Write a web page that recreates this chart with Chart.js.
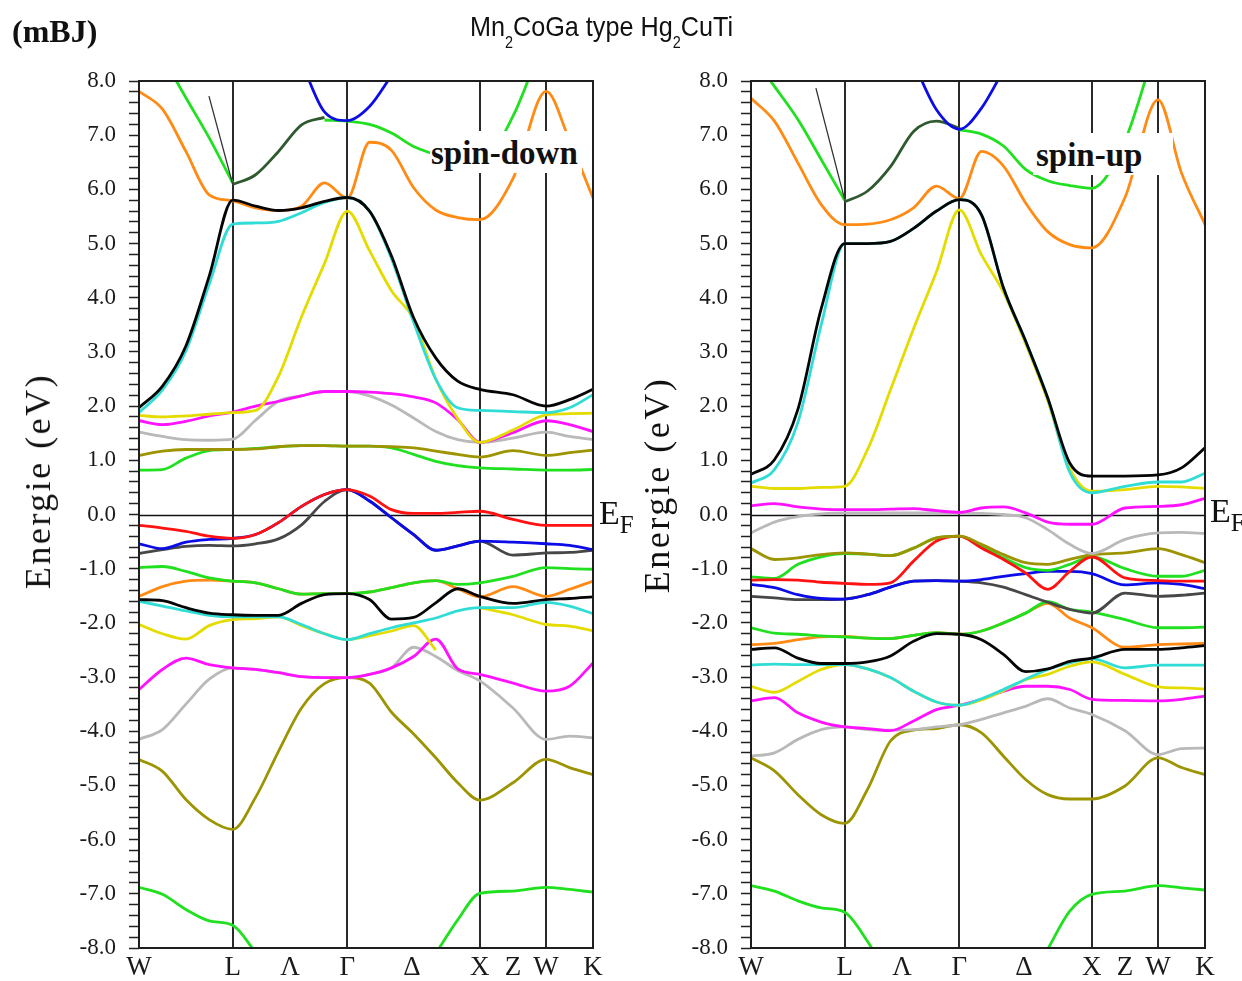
<!DOCTYPE html>
<html>
<head>
<meta charset="utf-8">
<script src="https://cdn.jsdelivr.net/npm/chart.js@4.4.1/dist/chart.umd.min.js"></script>
<style>
  body { margin: 0; background: #fff; }
  #page { position: relative; width: 1242px; height: 981px; overflow: hidden; background: #fff;
          font-family: "Liberation Serif", "Times New Roman", serif; color: #111; }
  canvas { position: absolute; top: 0; }
  .txt { position: absolute; white-space: nowrap; line-height: 1; }
  .ylab { font-size: 36px; transform: translate(-50%, -50%) rotate(-90deg); letter-spacing: 2.5px; }
  .spin { font-weight: bold; font-size: 33px; background: #fff; padding-top: 6px; height: 42px; box-sizing: border-box; }
  .ef { font-size: 34px; }
  .ef sub { font-size: 25px; vertical-align: -9px; }
  #title { left: 470px; top: 13px; font-family: "Liberation Sans", Arial, sans-serif; font-size: 28px;
           transform: scaleX(0.9); transform-origin: left top; color: #111; }
  #title sub { font-size: 16px; vertical-align: -12px; }
</style>
</head>
<body>
<div id="page">
  <canvas id="spinDown" width="621" height="981" style="left:0"></canvas>
  <canvas id="spinUp" width="621" height="981" style="left:621px"></canvas>

  <div class="txt" style="left:12px;top:15px;font-size:32px;font-weight:bold">(mBJ)</div>
  <div class="txt" id="title">Mn<sub>2</sub>CoGa type Hg<sub>2</sub>CuTi</div>

  <div class="txt ylab" style="left:38px;top:481px">Energie (eV)</div>
  <div class="txt ylab" style="left:657px;top:485px">Energie (eV)</div>

  <div class="txt spin" style="left:430px;top:131px;width:152px;padding-left:1px">spin-down</div>
  <div class="txt spin" style="left:1033px;top:133px;width:140px;padding-left:3px">spin-up</div>

  <div class="txt ef" style="left:599px;top:496px">E<sub>F</sub></div>
  <div class="txt ef" style="left:1210px;top:494px">E<sub>F</sub></div>
</div>

<script>
// k-path W-L-Γ-X-W-K, distances in 2π/a
const kPath = [0, 0.177, 0.354, 0.530, 0.707, 0.880, 1.053, 1.227, 1.400, 1.573,
               1.740, 1.906, 2.073, 2.240, 2.406, 2.573, 2.823, 3.073, 3.250, 3.427];
const kSym = [0, 0.707, 1.14, 1.573, 2.06, 2.573, 2.823, 3.073, 3.427];
const kSymLabels = ['W', 'L', 'Λ', 'Γ', 'Δ', 'X', 'Z', 'W', 'K'];
const kLines = [0.707, 1.573, 2.573, 3.073];
const eTicks = { min: -8, max: 8, step: 0.2 };

// short segments ending at L
const dnThinK = [0.528, 0.707];
const dnThin = [7.72, 6.10];
const upThinK = [0.490, 0.707];
const upThin = [7.87, 5.81];

// spin-down bands (eV)
const dnOrangeHi = [7.81, 7.48, 6.70, 5.90, 5.79, 5.66, 5.61, 5.69, 6.12, 5.84, 6.87, 6.72, 6.03, 5.62, 5.48, 5.44, 6.20, 7.81, 6.90, 5.84];
const dnGreenHi = [null, 8.45, 7.69, 6.95, 6.12, null, null, null, 7.28, 7.26, 7.20, 7.04, 6.79, 6.64, 6.50, 6.50, 7.35, 8.90, null, null];
const dnDarkGreen = [null, null, null, null, 6.09, 6.27, 6.70, 7.19, 7.33, null, null, null, null, null, null, null, null, null, null, null];
const dnBlueHi = [null, null, null, null, null, null, null, 8.34, 7.43, 7.27, 7.53, 8.10, null, null, null, null, null, null, null, null];
const dnBlack = [1.97, 2.37, 3.11, 4.40, 5.80, 5.69, 5.61, 5.66, 5.78, 5.85, 5.60, 4.77, 3.63, 2.89, 2.46, 2.31, 2.21, 2.00, 2.12, 2.31];
const dnCyan = [1.88, 2.30, 3.02, 4.25, 5.36, 5.38, 5.41, 5.57, 5.76, 5.85, 5.60, 4.72, 3.55, 2.50, 1.97, 1.92, 1.90, 1.88, 1.97, 2.21];
const dnYellowHi = [1.83, 1.80, 1.82, 1.85, 1.88, 1.92, 2.55, 3.65, 4.63, 5.60, 4.87, 4.13, 3.60, 2.50, 1.77, 1.33, 1.56, 1.84, 1.86, 1.87];
const dnMagentaHi = [1.73, 1.66, 1.72, 1.82, 1.89, 2.00, 2.09, 2.19, 2.27, 2.27, 2.26, 2.23, 2.17, 2.06, 1.75, 1.33, 1.51, 1.73, 1.66, 1.53];
const dnGrayHi = [1.52, 1.44, 1.38, 1.37, 1.39, 1.74, 2.09, 2.19, 2.27, 2.27, 2.19, 2.02, 1.78, 1.53, 1.38, 1.33, 1.41, 1.52, 1.44, 1.38];
const dnOliveHi = [1.09, 1.17, 1.20, 1.20, 1.20, 1.21, 1.25, 1.27, 1.27, 1.26, 1.26, 1.25, 1.23, 1.17, 1.11, 1.06, 1.18, 1.09, 1.14, 1.19];
const dnGreenMid = [0.82, 0.83, 1.04, 1.18, 1.20, 1.22, 1.25, 1.27, 1.27, 1.26, 1.26, 1.23, 1.11, 0.98, 0.90, 0.86, 0.84, 0.82, 0.82, 0.83];
const dnRed = [-0.20, -0.25, -0.31, -0.40, -0.44, -0.37, -0.15, 0.15, 0.37, 0.46, 0.34, 0.09, 0.02, 0.02, 0.04, 0.06, -0.09, -0.20, -0.20, -0.20];
const dnBlue = [-0.54, -0.63, -0.51, -0.46, -0.44, -0.37, -0.15, 0.15, 0.37, 0.46, 0.25, -0.06, -0.37, -0.66, -0.58, -0.49, -0.51, -0.54, -0.57, -0.65];
const dnDarkGray = [-0.72, -0.65, -0.59, -0.57, -0.58, -0.54, -0.45, -0.19, 0.24, 0.46, 0.25, -0.06, -0.37, -0.66, -0.58, -0.49, -0.75, -0.71, -0.70, -0.66];
const dnGreenLo = [-0.98, -0.96, -1.05, -1.17, -1.23, -1.26, -1.37, -1.47, -1.46, -1.46, -1.43, -1.35, -1.26, -1.22, -1.29, -1.26, -1.14, -0.98, -1.00, -1.01];
const dnOrangeLo = [-1.51, -1.33, -1.23, -1.21, -1.23, -1.26, -1.37, -1.47, -1.46, -1.46, -1.43, -1.35, -1.26, -1.22, -1.37, -1.52, -1.33, -1.51, -1.38, -1.23];
const dnBlackLo = [-1.57, -1.59, -1.72, -1.82, -1.85, -1.86, -1.86, -1.64, -1.48, -1.46, -1.57, -1.93, -1.90, -1.63, -1.37, -1.51, -1.64, -1.57, -1.55, -1.52];
const dnCyanLo = [-1.60, -1.69, -1.78, -1.86, -1.89, -1.89, -1.89, -2.03, -2.20, -2.31, -2.20, -2.09, -2.00, -1.91, -1.78, -1.72, -1.72, -1.62, -1.69, -1.83];
const dnYellowLo = [-2.03, -2.20, -2.30, -2.05, -1.94, -1.92, -1.89, -2.05, -2.20, -2.31, -2.24, -2.15, -2.05, -2.50, null, -1.72, -1.85, -2.03, -2.06, -2.15];
const dnMagentaLo = [-3.23, -2.86, -2.65, -2.77, -2.83, -2.86, -2.92, -2.99, -3.01, -3.01, -2.95, -2.83, -2.62, -2.30, -2.85, -2.95, -3.11, -3.26, -3.17, -2.74];
const dnGrayLo = [-4.15, -3.97, -3.50, -3.04, -2.83, -2.86, -2.92, -2.99, -3.01, -3.01, -2.95, -2.83, -2.45, -2.62, -2.88, -3.07, -3.57, -4.15, -4.09, -4.12];
const dnOliveLo = [-4.52, -4.74, -5.26, -5.63, -5.81, -5.22, -4.37, -3.57, -3.12, -3.01, -3.11, -3.65, -4.05, -4.49, -4.95, -5.27, -4.95, -4.52, -4.67, -4.80];
const dnGreenBot = [-6.88, -7.01, -7.29, -7.50, -7.58, -8.08, null, null, null, null, null, null, null, -8.10, -7.48, -6.99, -6.95, -6.88, -6.92, -6.97];

// spin-up bands (eV)
const upOrangeHi = [7.68, 7.26, 6.49, 5.72, 5.35, 5.36, 5.44, 5.66, 6.06, 5.83, 6.70, 6.43, 5.75, 5.22, 4.98, 4.92, 5.85, 7.65, 6.30, 5.35];
const upGreenHi = [8.50, 7.90, 7.29, 6.55, 5.80, null, null, null, null, 7.10, 7.02, 6.80, 6.37, 6.16, 6.07, 6.02, 6.90, 8.80, null, null];
const upDarkGreen = [null, null, null, null, 5.77, 5.97, 6.42, 7.07, 7.26, 7.13, null, null, null, null, null, null, null, null, null, null];
const upBlueHi = [null, null, null, null, null, null, null, 8.34, 7.47, 7.11, 7.50, 8.20, null, null, null, null, null, null, null, null];
const upBlack = [0.74, 1.01, 1.94, 3.80, 5.00, 5.00, 5.04, 5.28, 5.60, 5.81, 5.53, 4.18, 3.20, 2.15, 0.95, 0.71, 0.71, 0.73, 0.86, 1.23];
const upCyan = [0.58, 0.83, 1.70, 3.50, 5.00, 5.00, 5.04, 5.28, 5.60, 5.81, 5.53, 4.18, 3.20, 2.15, 0.78, 0.40, 0.52, 0.60, 0.60, 0.76];
const upYellowHi = [0.52, 0.48, 0.48, 0.50, 0.52, 1.20, 2.30, 3.43, 4.48, 5.62, 4.79, 4.10, 3.15, 2.10, 0.85, 0.43, 0.46, 0.52, 0.51, 0.48];
const upMagentaHi = [0.16, 0.20, 0.14, 0.10, 0.09, 0.09, 0.10, 0.11, 0.07, 0.04, 0.12, 0.14, 0.03, -0.14, -0.18, -0.18, 0.12, 0.15, 0.18, 0.30];
const upGrayHi = [-0.34, -0.14, -0.04, 0.01, 0.03, 0.03, 0.03, 0.03, 0.03, 0.03, 0.02, 0.00, -0.06, -0.28, -0.55, -0.72, -0.46, -0.34, -0.33, -0.35];
const upOlive = [-0.63, -0.83, -0.80, -0.74, -0.71, -0.73, -0.76, -0.62, -0.43, -0.40, -0.55, -0.74, -0.89, -0.92, -0.83, -0.74, -0.71, -0.63, -0.74, -0.89];
const upGreenMid = [-1.15, -1.18, -0.92, -0.78, -0.72, -0.73, -0.76, -0.62, -0.43, -0.40, -0.58, -0.80, -0.98, -1.03, -0.92, -0.78, -1.00, -1.14, -1.14, -1.03];
const upRed = [-1.21, -1.20, -1.21, -1.25, -1.27, -1.29, -1.26, -0.86, -0.49, -0.40, -0.62, -0.83, -1.08, -1.38, -1.05, -0.78, -1.17, -1.22, -1.23, -1.23];
const upBlue = [-1.29, -1.35, -1.48, -1.55, -1.56, -1.48, -1.34, -1.23, -1.22, -1.23, -1.20, -1.14, -1.09, -1.05, -1.05, -1.09, -1.30, -1.26, -1.29, -1.37];
const upDarkGray = [-1.51, -1.54, -1.57, -1.57, -1.56, -1.48, -1.34, -1.23, -1.22, -1.23, -1.26, -1.34, -1.48, -1.62, -1.75, -1.82, -1.45, -1.51, -1.49, -1.45];
const upGreenLo = [-2.09, -2.19, -2.21, -2.24, -2.26, -2.28, -2.29, -2.23, -2.18, -2.21, -2.15, -2.00, -1.82, -1.61, -1.75, -1.80, -1.94, -2.09, -2.09, -2.08];
const upOrangeLo = [-2.40, -2.38, -2.31, -2.26, -2.25, -2.28, -2.29, -2.23, -2.18, -2.21, -2.15, -2.00, -1.82, -1.64, -1.91, -2.09, -2.45, -2.40, -2.39, -2.38];
const upBlackLo = [-2.49, -2.46, -2.65, -2.75, -2.75, -2.72, -2.61, -2.34, -2.20, -2.21, -2.31, -2.58, -2.90, -2.85, -2.71, -2.65, -2.49, -2.49, -2.46, -2.42];
const upCyanLo = [-2.78, -2.76, -2.77, -2.77, -2.77, -2.85, -3.01, -3.26, -3.46, -3.52, -3.40, -3.23, -3.04, -2.86, -2.74, -2.66, -2.83, -2.78, -2.78, -2.78];
const upYellowLo = [-3.17, -3.28, -3.08, -2.86, -2.77, -2.85, -3.01, -3.26, -3.46, -3.52, -3.42, -3.25, -3.05, -2.95, -2.80, -2.72, -2.95, -3.18, -3.20, -3.22];
const upMagentaLo = [-3.44, -3.38, -3.66, -3.83, -3.92, -3.95, -3.99, -3.81, -3.60, -3.52, -3.41, -3.26, -3.17, -3.17, -3.23, -3.41, -3.43, -3.44, -3.41, -3.35];
const upGrayLo = [-4.46, -4.40, -4.15, -3.97, -3.92, -3.97, -3.98, -3.97, -3.92, -3.88, -3.78, -3.66, -3.54, -3.40, -3.57, -3.69, -3.99, -4.43, -4.32, -4.31];
const upOliveLo = [-4.49, -4.73, -5.17, -5.54, -5.70, -5.07, -4.18, -3.98, -3.95, -3.88, -4.03, -4.46, -4.89, -5.17, -5.25, -5.25, -5.01, -4.49, -4.67, -4.80];
const upGreenBot = [-6.85, -6.95, -7.13, -7.26, -7.34, -7.88, -8.60, null, null, null, null, null, null, -8.02, -7.32, -7.01, -6.95, -6.85, -6.89, -6.93];

const C = {
  orange: '#ff8a14', green: '#20e020', dkgreen: '#2f5a2f', blue: '#0c0ce8', black: '#050505',
  cyan: '#30dcd6', yellow: '#e4dc00', magenta: '#ff12ff', gray: '#b9b9b9', olive: '#9c9400',
  red: '#ff1212', dkgray: '#474747', thin: '#333333'
};

// first entry is drawn on top; optional 4th item = own k-points
const downBands = [
  [dnThin, C.thin, 1.3, dnThinK], [dnBlueHi, C.blue], [dnDarkGreen, C.dkgreen], [dnGreenHi, C.green],
  [dnBlack, C.black], [dnCyan, C.cyan], [dnOrangeHi, C.orange], [dnYellowHi, C.yellow],
  [dnMagentaHi, C.magenta], [dnGrayHi, C.gray], [dnOliveHi, C.olive], [dnGreenMid, C.green],
  [dnRed, C.red], [dnBlue, C.blue], [dnDarkGray, C.dkgray],
  [dnBlackLo, C.black], [dnGreenLo, C.green], [dnOrangeLo, C.orange], [dnCyanLo, C.cyan],
  [dnYellowLo, C.yellow], [dnMagentaLo, C.magenta], [dnGrayLo, C.gray], [dnOliveLo, C.olive],
  [dnGreenBot, C.green]
];
const upBands = [
  [upThin, C.thin, 1.3, upThinK], [upBlueHi, C.blue], [upDarkGreen, C.dkgreen], [upGreenHi, C.green],
  [upBlack, C.black], [upCyan, C.cyan], [upOrangeHi, C.orange], [upYellowHi, C.yellow],
  [upMagentaHi, C.magenta], [upGrayHi, C.gray], [upOlive, C.olive],
  [upRed, C.red], [upGreenMid, C.green], [upBlue, C.blue], [upDarkGray, C.dkgray],
  [upBlackLo, C.black], [upGreenLo, C.green], [upOrangeLo, C.orange], [upCyanLo, C.cyan],
  [upYellowLo, C.yellow], [upMagentaLo, C.magenta], [upGrayLo, C.gray], [upOliveLo, C.olive],
  [upGreenBot, C.green]
];

// frame, E_F line and high-symmetry verticals
const bandFrame = {
  id: 'bandFrame',
  beforeDatasetsDraw(chart) {
    const { ctx, chartArea: a, scales } = chart;
    ctx.save();
    ctx.strokeStyle = '#2a2a2a';
    ctx.lineWidth = 2;
    kLines.forEach(k => {
      const x = Math.round(scales.x.getPixelForValue(k));
      ctx.beginPath(); ctx.moveTo(x, a.top); ctx.lineTo(x, a.bottom); ctx.stroke();
    });
    const y0 = Math.round(scales.y.getPixelForValue(0)) + 0.5;
    ctx.strokeStyle = '#111';
    ctx.lineWidth = 1.4;
    ctx.beginPath(); ctx.moveTo(a.left, y0); ctx.lineTo(a.right, y0); ctx.stroke();
    ctx.restore();
  },
  afterDatasetsDraw(chart) {
    const { ctx, chartArea: a } = chart;
    ctx.save();
    ctx.strokeStyle = '#1e1e1e';
    ctx.lineWidth = 2;
    ctx.strokeRect(a.left, a.top, a.right - a.left, a.bottom - a.top);
    ctx.restore();
  }
};

const serif = '"Liberation Serif", "Times New Roman", serif';

function drawPanel(canvasId, bands, axisWidth, padRight) {
  new Chart(document.getElementById(canvasId), {
    type: 'line',
    data: {
      datasets: bands.map(b => {
        const ks = b[3] || kPath;
        return {
          data: ks.map((k, i) => ({ x: k, y: b[0][i] })),
          borderColor: b[1],
          borderWidth: b[2] || 2.8,
          pointRadius: 0,
          cubicInterpolationMode: 'monotone',
          spanGaps: false,
          fill: false
        };
      })
    },
    options: {
      responsive: false,
      animation: false,
      events: [],
      layout: { padding: { top: 81, right: padRight, bottom: 0, left: 0 } },
      plugins: { legend: { display: false }, tooltip: { enabled: false } },
      scales: {
        x: {
          type: 'linear',
          min: kPath[0],
          max: kPath[kPath.length - 1],
          grid: { display: false },
          border: { display: false },
          afterBuildTicks: s => { s.ticks = kSym.map(v => ({ value: v })); },
          afterFit: s => { s.height = 33; },
          ticks: {
            autoSkip: false, maxRotation: 0, padding: -4, color: '#1a1a1a',
            font: { family: serif, size: 27 },
            callback: (v, i) => kSymLabels[i]
          }
        },
        y: {
          min: eTicks.min,
          max: eTicks.max,
          border: { display: false },
          afterFit: s => { s.width = axisWidth; },
          grid: { drawOnChartArea: false, drawTicks: true, tickLength: 10, tickColor: '#222', tickWidth: 1.5 },
          ticks: {
            stepSize: eTicks.step, autoSkip: false, padding: 13, color: '#1a1a1a',
            font: { family: serif, size: 23 },
            callback: v => Math.abs(v - Math.round(v)) < 1e-6 ? Math.round(v).toFixed(1) : ''
          }
        }
      }
    },
    plugins: [bandFrame]
  });
}

drawPanel('spinDown', downBands, 139, 28);
drawPanel('spinUp', upBands, 130, 37);
</script>
</body>
</html>
